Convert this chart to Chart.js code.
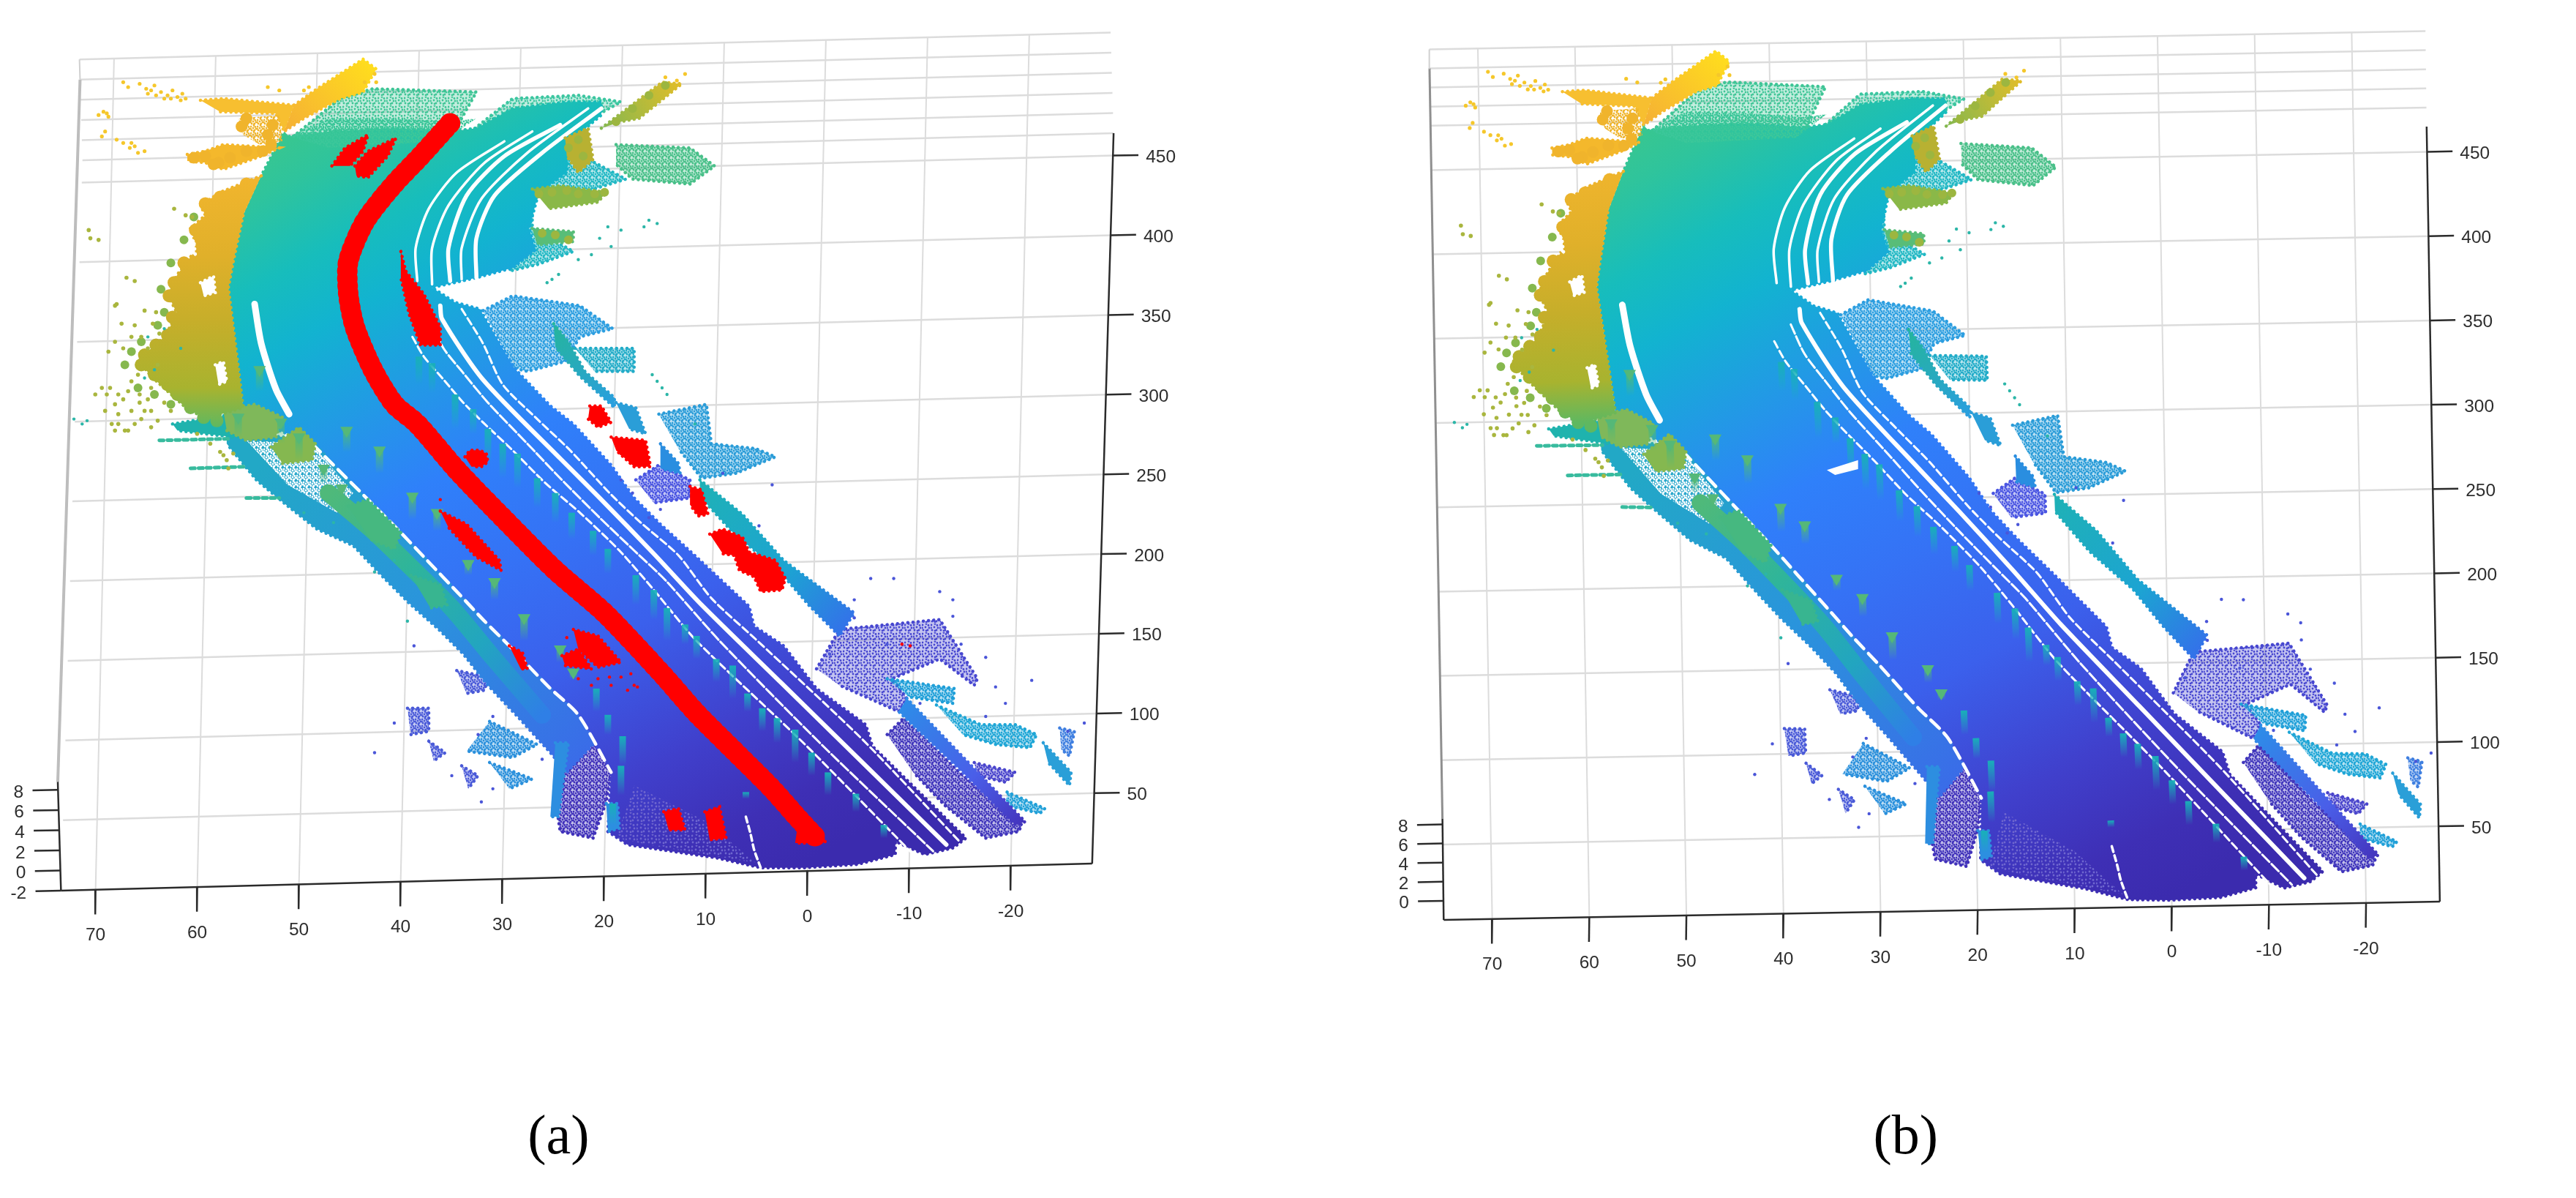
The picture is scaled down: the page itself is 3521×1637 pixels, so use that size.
<!DOCTYPE html>
<html>
<head>
<meta charset="utf-8">
<title>Point cloud (a) (b)</title>
<script src="https://cdn.jsdelivr.net/npm/chart.js@4/dist/chart.umd.min.js"></script>
<style>
  html, body { margin: 0; padding: 0; background: #fff; }
  canvas { display: block; }
</style>
</head>
<body>
<canvas id="cloud" width="3521" height="1637"></canvas>
<script>
/* tick labels */
const xTicks = [70, 60, 50, 40, 30, 20, 10, 0, -10, -20];
const yTicks = [50, 100, 150, 200, 250, 300, 350, 400, 450];
const zTicksA = [-2, 0, 2, 4, 6, 8];
const zTicksB = [0, 2, 4, 6, 8];
const captions = ['(a)', '(b)'];

/* point cloud outlines */
const roadOutline = [[176,83],[200,80],[240,78],[275,80],[290,78],[312,66],[345,62],[366,62],[366,70],[347,86],[345,105],[328,117],[322,139],[326,152],[312,163],[290,169],[263,175],[277,184],[292,188],[313,224],[335,247],[349,258],[372,283],[386,303],[402,319],[424,339],[456,369],[459,381],[477,393],[497,419],[527,441],[531,454],[588,510],[580,516],[563,520],[545,512],[545,520],[522,526],[490,528],[463,528],[436,522],[402,517],[382,514],[370,506],[372,470],[352,435],[334,418],[310,393],[294,377],[279,361],[260,341],[242,322],[224,304],[203,283],[190,270],[170,262],[148,248],[145,223],[142,199],[139,175],[142,159],[148,131],[159,107],[173,80]];
const curbStrip = [[138,262],[190,268],[203,283],[224,304],[242,322],[260,341],[279,361],[294,377],[310,393],[334,418],[352,435],[362,452],[345,470],[335,458],[315,436],[297,417],[282,398],[267,383],[249,367],[234,352],[215,332],[193,322],[174,307],[156,292],[138,270]];
const curbBand = [[200,300],[226,322],[250,345],[275,370],[300,400],[330,435]];
const purpleCurb = [[341,431],[349,431],[372,470],[369,488],[361,510],[341,506],[337,480]];
const curbColumn = [[338,452],[346,452],[340,497],[335,497]];
const farSpeckle = [[386,478],[430,500],[460,525],[400,515],[375,510]];
const whiteSpeckle = [[150,268],[190,270],[215,300],[205,312],[175,295]];

const topSparse = [[176,85],[207,60],[227,54],[290,56],[281,72],[275,84],[240,92],[200,100]];
const topDense = [[176,83],[200,72],[240,72],[275,74],[290,72],[270,86],[200,90]];
const topRightSparse = [[284,82],[312,60],[352,58],[378,62],[360,72],[340,80],[310,90]];
const rightSideSparse = [[345,90],[381,109],[355,117],[324,119],[324,139],[349,153],[327,161],[310,165],[325,125]];
const yellowWedge = [[179,64],[193,54],[221,36],[229,42],[221,56],[207,60],[185,72],[173,80]];
const yellowArm = [[122,61],[136,60],[179,64],[173,80],[168,69],[134,68]];
const orangeBlockA = [[145,72],[170,70],[172,86],[158,88],[148,82]];
const orangeBlockB = [[114,94],[125,92],[136,88],[170,90],[159,95],[136,103],[125,99],[114,98]];
const leftFringe = [[159,107],[134,117],[122,125],[125,131],[116,139],[120,151],[108,167],[102,179],[108,191],[100,205],[84,219],[92,229],[112,247],[125,255],[148,248],[145,223],[142,199],[139,175],[142,159],[148,131]];
const fringeHoles = [[[122,172],[130,168],[131,178],[124,180]], [[131,222],[136,220],[138,232],[133,234]], [[112,150],[118,146],[119,156]]];

const notchTreeA = [[344,84],[358,78],[361,97],[352,105],[345,95]];
const notchArm = [[366,78],[403,50],[415,51],[389,72],[378,74]];
const rightSparseGreen = [[375,88],[420,90],[435,101],[420,112],[385,109],[375,100]];
const treeRowRight = [[324,115],[341,113],[369,117],[364,123],[334,127]];
const treeBlobRight = [[324,139],[349,141],[349,147],[327,149]];
const bluePatchA = [[294,189],[312,180],[353,186],[373,200],[353,205],[344,220],[321,226],[313,224]];
const tealBladeA = [[337,197],[346,208],[356,226],[374,242],[374,248],[353,229],[338,211]];
const tealPatchB = [[350,212],[386,212],[386,226],[362,226]];
const tealBladeC = [[375,245],[387,248],[393,264],[383,261]];
const tealPatchC = [[401,252],[430,246],[433,270],[460,273],[472,278],[448,288],[427,291],[413,273]];
const blueColumn = [[402,270],[413,282],[414,288],[402,285]];
const purplePatchD = [[387,292],[401,283],[420,292],[420,303],[398,306]];
const tealStripE = [[426,292],[452,313],[477,341],[520,373],[511,387],[493,369],[474,347],[447,325],[426,302]];
const purplePatchF = [[497,407],[511,383],[572,377],[595,413],[593,417],[572,401],[543,413],[552,425],[547,433],[529,425],[511,417]];
const tealPatchG = [[540,413],[581,419],[580,428],[553,424]];
const purplePatchH = [[540,447],[550,437],[561,447],[584,470],[622,502],[620,506],[600,510],[575,490],[556,470]];
const blueBandH = [[552,425],[624,500],[618,502],[584,468],[547,433]];
const tealPatchI = [[570,429],[597,441],[618,441],[631,447],[627,455],[606,453],[586,447]];
const purpleTuftJ = [[645,443],[654,445],[651,460],[646,456]];
const tealBladeJ = [[635,452],[652,470],[651,478],[638,464]];
const tealPatchK = [[613,482],[636,492],[633,495],[612,490]];
const purplePatchL = [[593,464],[618,470],[612,476],[595,472]];
const lowLeftPatches = [
  [[248,431],[261,431],[261,445],[250,447]],
  [[261,451],[271,458],[264,463]],
  [[281,466],[291,472],[285,480]],
  [[278,408],[297,412],[295,420],[284,422]]
];
const lowLeftTeal = [[[298,439],[327,453],[312,461],[284,457]], [[298,464],[324,474],[310,480]]];
const lowBlock = [[369,489],[376,489],[377,504],[370,506]];
const tealBlockLeft = [[105,258],[142,252],[159,264],[142,266],[108,262]];
const horizontalStreaks = [
  [[97,268],[139,267]],
  [[116,285],[150,284]],
  [[150,303],[170,303]]
];
const greenMassA = [[136,250],[155,246],[172,254],[168,266],[150,268],[138,262]];
const greenMassB = [[165,272],[182,260],[192,270],[190,280],[172,282]];
const greenMassC = [[212,308],[224,304],[244,324],[240,334],[225,328]];
const greenMassD = [[250,350],[268,356],[272,368],[262,370]];

/* lane gaps */
const laneUpperA = [[307,86],[278,105],[261,127],[253,151],[254,171]];
const laneUpperB = [[324,80],[295,99],[273,125],[263,151],[263,173]];
const laneUpperC = [[341,76],[307,95],[284,119],[273,151],[274,171]];
const laneUpperD = [[358,66],[321,93],[293,121],[281,151],[281,170]];
const laneUpperE = [[366,66],[330,93],[301,119],[290,145],[290,169]];
const laneOuter = [[281,188],[294,209],[306,234],[327,255],[347,274],[371,300],[390,318],[413,338],[433,364],[460,389],[525,450],[584,512]];
const laneThick = [[268,186],[269,194],[294,231],[341,279],[365,303],[398,337],[427,368],[475,415],[527,466],[576,514]];
const laneInner = [[262,195],[270,212],[282,227],[297,245],[321,270],[341,291],[365,315],[386,335],[405,353],[438,390],[500,453],[568,518]];
const laneFar = [[251,205],[258,217],[270,231],[282,245],[294,257],[312,274],[332,294],[353,312],[377,335],[398,359],[424,390],[490,453],[554,518]];
const leftGapThick = [[155,185],[159,209],[168,237],[176,252]];
const leftGapThin = [[190,270],[203,283],[224,304],[242,322],[260,341],[279,361],[294,377],[310,393],[334,418],[352,435],[372,470]];
const centreDash = [[454,497],[457,508],[459,517],[463,528]];

/* poles along the road and trees on it: x, top, bottom */
const poles = [[255,217,234],[263,221,239],[277,240,261],[288,249,264],[297,261,282],[306,270,291],[315,276,297],[327,291,309],[338,300,318],[348,312,328],[361,323,338],[370,334,349],[387,350,368],[398,359,377],[406,370,390],[417,380,392],[424,387,401],[436,401,415],[446,405,425],[455,422,433],[464,431,445],[473,437,452],[484,444,464],[494,458,472],[504,470,484],[521,483,494],[538,502,510],[363,419,433],[370,435,447],[379,448,466],[378,466,484],[373,489,502],[454,482,486]];
const trees = [[171,255,270],[182,264,280],[197,283,295],[208,295,304],[211,260,275],[231,272,288],[158,223,238],[145,252,266],[251,300,316],[266,310,323],[285,341,350],[301,352,365],[319,374,390],[341,393,403],[349,407,413]];

/* loose points */
const yellowPts = [[75,50],[78,53],[85,51],[89,54],[92,55],[95,58],[98,56],[102,58],[105,55],[108,59],[111,57],[113,60],[110,61],[100,60],[60,70],[63,68],[66,71],[65,69],[64,80],[62,83],[71,85],[75,87],[80,87],[79,90],[84,93],[88,92],[163,53],[170,55],[185,55],[188,53],[90,57],[94,52],[104,60],[82,89],[228,45],[229,50],[222,50],[405,47],[412,49],[417,45]];
const fringeLumps = [[150,112],[143,118],[134,120],[125,124],[136,128],[128,135],[119,140],[128,146],[122,152],[112,160],[118,168],[106,172],[103,180],[110,186],[105,193],[116,195],[102,204],[95,210],[88,216],[86,222],[94,228],[102,234],[108,240],[116,248],[124,254],[132,256]];
const orangeLumps = [[125,95],[133,99],[140,96],[150,92],[160,92],[130,100],[147,77],[166,76],[163,82],[150,72],[165,88],[118,96]];
const greenFringe = [[118,132],[112,146],[104,160],[98,176],[100,190],[96,198],[86,208],[80,214],[76,222],[84,236],[94,240],[104,246]];
const olivePts = [[55,145],[60,146],[54,140],[106,127],[113,131],[117,132],[77,169],[82,171],[70,186],[71,185],[88,189],[93,197],[97,203],[74,197],[82,198],[95,190],[70,208],[75,212],[86,205],[80,205],[90,212],[66,214],[62,236],[72,240],[80,232],[85,240],[92,236],[58,240],[64,250],[72,258],[86,255],[92,250],[76,262],[96,222],[84,228],[100,245],[120,264],[128,270],[136,277],[139,285],[65,240],[70,246],[75,243],[80,250],[72,252],[85,245],[90,243],[68,258],[78,262],[92,260],[134,275],[138,280],[142,276],[67,236],[78,238],[88,250],[82,258],[70,262],[96,256],[104,250]];
const greenLumps = [[346,90],[352,85],[355,95],[385,66],[395,58],[405,52],[375,74],[328,118],[336,117],[345,116],[352,118],[362,118],[368,117],[330,142],[338,143],[346,146]];
const tealPts = [[45,255],[50,258],[53,256],[90,205],[100,200],[94,225],[88,230],[110,212],[395,134],[400,136],[392,138],[370,138],[378,140],[365,145],[372,150],[360,155],[352,158],[336,170],[340,167],[333,172],[397,228],[400,232],[403,236],[406,240],[423,258],[228,348],[240,341],[203,318],[185,312],[248,378]];
const purplePts = [[520,365],[530,352],[544,352],[572,360],[580,365],[470,295],[440,288],[462,320],[540,392],[580,375],[600,400],[606,418],[628,414],[612,428],[650,445],[660,440],[275,472],[252,393],[291,447],[300,480],[293,488],[240,440],[228,458],[395,315],[402,310],[385,300],[378,292],[505,398],[520,376],[585,392],[600,436],[560,428],[300,436],[330,462]];

/* red labelled points, only in panel (a) */
const redPath = [[274,75],[256,95],[239,113],[222,135],[212,159],[212,179],[216,199],[227,225],[240,246],[254,258],[279,287],[309,318],[338,347],[368,373],[402,409],[424,434],[447,457],[470,480],[485,497],[497,510]];
const redBlobs = [
  [[202,101],[210,90],[224,82],[221,92],[213,101]],
  [[216,101],[224,92],[241,84],[236,95],[224,108],[217,107]],
  [[244,153],[247,165],[258,179],[268,199],[268,210],[256,210],[249,191],[244,169]],
  [[283,278],[286,274],[292,274],[296,276],[297,281],[293,284],[287,284]],
  [[359,247],[366,247],[372,257],[364,260],[358,255]],
  [[372,266],[393,268],[396,284],[386,284],[375,274]],
  [[420,296],[427,298],[431,313],[425,314],[420,307]],
  [[432,325],[440,322],[452,327],[456,336],[472,341],[478,352],[476,359],[463,360],[459,351],[450,347],[447,338],[440,337]],
  [[268,311],[284,319],[304,341],[305,347],[290,339],[273,321]],
  [[310,393],[318,397],[321,407],[317,407]],
  [[342,399],[352,395],[360,407],[344,405]],
  [[349,383],[364,387],[378,403],[364,406],[352,395]],
  [[404,494],[413,492],[417,505],[407,505]],
  [[429,494],[438,491],[442,510],[432,511]],
  [[486,499],[503,512],[497,513],[484,513]]
];
const redPts = [[358,406],[364,413],[371,412],[378,412],[384,410],[352,413],[360,417],[386,417],[382,420],[372,417],[388,418],[549,392],[554,393],[268,304],[345,388],[378,276]];

/* panel (b) only: hole left on the road */
const holeB = [[1112,286],[1131,280],[1131,285.5],[1117,289]];

/* where the axes fall in each panel, in page units of the reduced figure */
const viewA = {
  origin: [491.3, 535.7], ex: [-6.19, 0.162], ey: [0.0285, -0.97], ez: [-0.18, -6.13],
  uMax: 73.4, uMin: -28, vFront: 5.8, vBack: 464, zLow: -2, zTop: 8, zAxisTop: 8.8,
  scene: { xx: 1, xy: 0, x0: 0, yx: 0, yy: 1, y0: 0 }, wall: '#bdbdbd', wallWidth: 4
};
const viewB = {
  origin: [1322.1, 557.1], ex: [-5.91, 0.108], ey: [-0.0175, -1.026], ez: [-0.07, -5.81],
  uMax: 75, uMin: -27.6, vFront: 5.3, vBack: 465, zLow: -2, zTop: 8, zAxisTop: 8.6,
  scene: { xx: 0.9547, xy: 0.04, x0: 832.1, yx: 0.0134, yy: 1.043, y0: -9.5 }, wall: '#8f8f8f', wallWidth: 3
};

function project(view, u, v, z) {
  return {
    x: view.origin[0] + u * view.ex[0] + v * view.ey[0] + (z - view.zLow) * view.ez[0],
    y: view.origin[1] + u * view.ex[1] + v * view.ey[1] + (z - view.zLow) * view.ez[1]
  };
}

function toPanel(view, p) {
  const s = view.scene;
  return { x: s.xx * p[0] + s.xy * p[1] + s.x0, y: s.yx * p[0] + s.yy * p[1] + s.y0 };
}

/* --- fills --- */
function gradientFill(view, from, to, stops) {
  return function(ctx) {
    const chart = ctx.chart;
    const kx = chart.width / 1568;
    const ky = chart.height / 729;
    const a = toPanel(view, from);
    const b = toPanel(view, to);
    const g = chart.ctx.createLinearGradient(a.x * kx, a.y * ky, b.x * kx, b.y * ky);
    stops.forEach(s => g.addColorStop(s[0], s[1]));
    return g;
  };
}

const tiles = {};
function dotPattern(color, step) {
  const key = color + step;
  if (!tiles[key]) {
    const tile = document.createElement('canvas');
    tile.width = step * 3;
    tile.height = step * 3;
    const c = tile.getContext('2d');
    c.fillStyle = color;
    [[1, 2], [step + 2, 0.5], [step * 2 + 1, 2.5], [0.5, step + 2], [step + 1, step + 1], [step * 2 + 2, step + 2], [2, step * 2 + 1], [step + 2, step * 2 + 2], [step * 2, step * 2 + 1]].forEach(d => {
      c.beginPath();
      c.arc(d[0], d[1], 1.4, 0, Math.PI * 2);
      c.fill();
    });
    tiles[key] = c.createPattern(tile, 'repeat');
  }
  return tiles[key];
}

const roadStops = [[0,'#3bc78c'],[0.06,'#2fc49c'],[0.146,'#17bdbc'],[0.22,'#12b3d0'],[0.34,'#2496e8'],[0.43,'#2f80fa'],[0.55,'#3572f5'],[0.68,'#3b60ec'],[0.825,'#4040cc'],[0.93,'#3e2fb5'],[1,'#3b2bae']];
const fringeStops = [[0,'#f4b62e'],[0.35,'#e0b02a'],[0.6,'#c6ae2a'],[0.85,'#a8b32f'],[1,'#5fb860']];
const bandStops = [[0,'#4fb97a'],[0.35,'#2fb59a'],[0.7,'#22a5c0'],[1,'#2f7fe6']];

/* --- dataset builders --- */
function polygon(view, pts, fill, edge) {
  return {
    data: pts.map(p => toPanel(view, p)),
    showLine: true, fill: 'shape', backgroundColor: fill,
    borderColor: edge || 'rgba(0,0,0,0)', borderWidth: edge ? 4.5 : 0,
    borderDash: edge ? [0.1, 7] : [], borderCapStyle: 'round', pointRadius: 0, tension: 0
  };
}

function stroke(view, pts, color, width, dash, cap) {
  return {
    data: pts.map(p => toPanel(view, p)),
    showLine: true, fill: false, borderColor: color, borderWidth: width,
    borderDash: dash || [], borderJoinStyle: 'round', borderCapStyle: cap || 'round', pointRadius: 0, tension: 0.25
  };
}

function straight(a, b, color, width) {
  return { data: [a, b], showLine: true, fill: false, borderColor: color, borderWidth: width, pointRadius: 0, tension: 0 };
}

function scatter(view, pts, color, r, style) {
  return {
    data: pts.map(p => toPanel(view, p)), showLine: false, pointRadius: r, backgroundColor: color,
    borderWidth: 0, pointBorderWidth: 0, pointStyle: style || 'circle', pointRotation: style === 'triangle' ? 180 : 0
  };
}

/* a post fades from its coloured top into the road below it */
function fadingPost(view, p, top, width) {
  const faded = top.replace('1)', '0)');
  return stroke(view, [[p[0],p[1]],[p[0],p[2]]], gradientFill(view, [p[0],p[1]], [p[0],p[2]], [[0,top],[1,faded]]), width, [], 'butt');
}

function axesDatasets(view, zGrid) {
  const out = [];
  const grid = '#dcdcdc';
  xTicks.forEach(u => out.push(straight(project(view, u, view.vFront, view.zLow), project(view, u, view.vBack, view.zTop), grid, 2)));
  yTicks.forEach(v => out.push(straight(project(view, view.uMax, v, view.zLow), project(view, view.uMin, v, view.zLow), grid, 2.5)));
  zGrid.forEach(z => out.push(straight(project(view, view.uMax, view.vBack, z), project(view, view.uMin, view.vBack, z), grid, 2.5)));
  out.push(straight(project(view, view.uMax, view.vFront, view.zAxisTop), project(view, view.uMax, view.vBack, 6), view.wall, view.wallWidth));
  out.push(straight(project(view, view.uMax, view.vBack, 6), project(view, view.uMax, view.vBack, view.zTop), '#d0d0d0', 2));
  return out;
}

function axisLines(view, zLabels) {
  const out = [];
  const axis = '#2b2b2b';
  const left = project(view, view.uMax, view.vFront, view.zLow);
  const right = project(view, view.uMin, view.vFront, view.zLow);
  out.push(straight(left, right, axis, 2.5));
  out.push(straight(right, project(view, view.uMin, view.vBack, view.zLow), axis, 2.5));
  out.push(straight(left, project(view, view.uMax, view.vFront, view.zAxisTop), axis, 2.5));
  xTicks.forEach(u => {
    const p = project(view, u, view.vFront, view.zLow);
    out.push(straight(p, { x: p.x - 0.2, y: p.y + 15 }, axis, 2.5));
  });
  yTicks.forEach(v => {
    const p = project(view, view.uMin, v, view.zLow);
    out.push(straight(p, { x: p.x + 15.5, y: p.y - 0.3 }, axis, 2.5));
  });
  zLabels.forEach(z => {
    const p = project(view, view.uMax, view.vFront, z);
    out.push(straight(p, { x: p.x - 15.5, y: p.y + 0.3 }, axis, 2.5));
  });
  return out;
}

function cloudDatasets(view) {
  const out = [];
  const road = gradientFill(view, [200,60], [457.6,542], roadStops);
  const fringe = gradientFill(view, [0,100], [0,260], fringeStops);
  /* sparse returns: a faint wash of the colour with the dots on top */
  const s = (pts, c, step) => {
    out.push(polygon(view, pts, c + '50'));
    out.push(polygon(view, pts, dotPattern(c, step || 4), c));
  };
  const f = (pts, c, edge) => out.push(polygon(view, pts, c, edge === undefined ? c : edge));

  s(topSparse, '#3fc596', 4);
  s(topRightSparse, '#3cc6a0', 4);
  s(rightSideSparse, '#22b8c4', 3);
  s(rightSparseGreen, '#49c089', 3);
  s(bluePatchA, '#2c9ee0', 3);
  s(tealPatchB, '#22acc8', 3);
  s(tealPatchC, '#2a9cd8', 3);
  s(purplePatchD, '#4a55e2', 3);
  s(purplePatchF, '#4747d0', 4);
  s(purplePatchH, '#4136bc', 3);
  s(tealPatchG, '#1f9fd8', 3);
  s(tealPatchI, '#1fa6d6', 3);
  s(purpleTuftJ, '#3f7fe0', 3);
  s(tealPatchK, '#21a0d8', 3);
  s(purplePatchL, '#4a45cc', 3);
  lowLeftPatches.forEach(p => s(p, '#4a5ad8', 3));
  lowLeftTeal.forEach(p => s(p, '#2a90dc', 3));
  s(purpleCurb, '#4132ba', 3);

  /* main surface */
  f(roadOutline, road);
  out.push(polygon(view, topDense, dotPattern('#3cc79a', 3)));
  f(curbStrip, gradientFill(view, [160,280], [345,470], [[0,'#22a8c6'],[0.5,'#2a94dc'],[1,'#3a6ce8']]));
  f(curbColumn, '#2d8ee0');
  f(lowBlock, '#2c8fe0');
  f(blueColumn, '#2a8ee0');
  out.push(polygon(view, farSpeckle, dotPattern('#6f67cf', 5)));
  out.push(polygon(view, whiteSpeckle, dotPattern('#ffffff', 3)));

  /* lanes cut out of the surface */
  [laneUpperA, laneUpperB, laneUpperD].forEach(l => out.push(stroke(view, l, '#fff', 3.5)));
  [laneUpperC, laneUpperE].forEach(l => out.push(stroke(view, l, '#fff', 5.5)));
  out.push(stroke(view, laneOuter, '#fff', 3, [10, 5]));
  out.push(stroke(view, laneThick, '#fff', 6));
  out.push(stroke(view, laneInner, '#fff', 3, [14, 4]));
  out.push(stroke(view, laneFar, '#fff', 3, [10, 5]));
  out.push(stroke(view, leftGapThick, '#fff', 9));
  out.push(stroke(view, leftGapThin, '#fff', 4.5, [16, 9]));
  out.push(stroke(view, centreDash, '#fff', 3.5, [8, 5]));

  /* strips and vegetation */
  out.push(stroke(view, curbBand, gradientFill(view, [200,300], [330,435], bandStops), 24));
  f(tealBlockLeft, '#1fb3ae');
  horizontalStreaks.forEach(h => out.push(stroke(view, h, '#38bb9e', 5, [6, 5])));
  f(greenMassA, '#7fb85a');
  f(greenMassB, '#85b850');
  f(greenMassC, '#46b880');
  f(greenMassD, '#38b590');
  poles.forEach(p => out.push(fadingPost(view, p, 'rgba(24,176,184,1)', 9)));
  trees.forEach(p => out.push(fadingPost(view, p, 'rgba(80,184,120,1)', 10)));
  out.push(scatter(view, trees.map(t => [t[0], t[1] + 2]), '#55b878', 10, 'triangle'));

  out.push(scatter(view, greenFringe, '#86b84e', 6));
  f(leftFringe, fringe);
  f(yellowArm, '#f7bf30');
  f(yellowWedge, gradientFill(view, [221,36], [175,80], [[0,'#ffdc1e'],[1,'#f5b035']]));
  out.push(polygon(view, orangeBlockA, dotPattern('#efb52c', 3)));
  f(orangeBlockB, '#f4b82c');
  f(notchTreeA, '#b8b132');
  f(notchArm, gradientFill(view, [415,50], [366,78], [[0,'#e2bd28'],[1,'#84b850']]));
  f(treeRowRight, '#8ab848');
  f(treeBlobRight, '#58bd78');
  f(tealBladeA, gradientFill(view, [337,197], [374,248], [[0,'#25b59c'],[1,'#2a9ee0']]));
  f(tealBladeC, '#2a9ed8');
  f(tealStripE, gradientFill(view, [424,289], [520,380], [[0,'#1fb2b4'],[0.6,'#1ca4d2'],[1,'#3470ea']]));
  f(blueBandH, gradientFill(view, [552,425], [624,500], [[0,'#2d8de8'],[0.6,'#4a5ee8'],[1,'#4434bd']]));
  f(tealBladeJ, '#2a9fd8');

  /* loose points */
  out.push(scatter(view, fringeLumps, fringe, 9));
  fringeHoles.forEach(h => out.push(polygon(view, h, '#ffffff', '#ffffff')));
  out.push(scatter(view, orangeLumps, '#f0b42c', 8));
  out.push(scatter(view, greenLumps, '#9cb640', 6));
  out.push(scatter(view, yellowPts, '#f5c72b', 2.6));
  out.push(scatter(view, olivePts, '#a9b63e', 2.8));
  out.push(scatter(view, tealPts, '#2cb6a8', 2.2));
  out.push(scatter(view, purplePts, '#4a55d8', 2.2));
  return out;
}

function redDatasets(view) {
  const out = [];
  out.push(stroke(view, redPath, '#ff0000', 22));
  out.push(stroke(view, redPath, '#ff0000', 28, [1, 9]));
  redBlobs.forEach(b => out.push(polygon(view, b, '#ff0000', '#ff0000')));
  out.push(scatter(view, redPts, '#ff0000', 2.2));
  return out;
}

/* tick text goes through the same scales as the marks */
const tickText = {
  id: 'tickText',
  afterDraw(chart) {
    const { ctx, scales } = chart;
    const put = (p, text, align) => {
      ctx.textAlign = align;
      ctx.fillText(text, scales.x.getPixelForValue(p.x), scales.y.getPixelForValue(p.y));
    };
    ctx.save();
    ctx.fillStyle = '#2e2e2e';
    ctx.textBaseline = 'middle';
    ctx.font = "24.5px 'Liberation Sans', Arial, sans-serif";
    [[viewA, zTicksA], [viewB, zTicksB]].forEach(([view, zs]) => {
      xTicks.forEach(u => {
        const p = project(view, u, view.vFront, view.zLow);
        put({ x: p.x, y: p.y + 28 }, String(u), 'center');
      });
      yTicks.forEach(v => {
        const p = project(view, view.uMin, v, view.zLow);
        put({ x: p.x + 20, y: p.y + 1.2 }, String(v), 'left');
      });
      zs.forEach(z => {
        const p = project(view, view.uMax, view.vFront, z);
        put({ x: p.x - 21, y: p.y + 1.7 }, String(z), 'right');
      });
    });
    ctx.fillStyle = '#000';
    ctx.font = "76px 'Liberation Serif', 'Times New Roman', serif";
    put({ x: 340, y: 693 }, captions[0], 'center');
    put({ x: 1160, y: 693 }, captions[1], 'center');
    ctx.restore();
  }
};

const datasets = [].concat(
  axesDatasets(viewA, [-2, 0, 2, 4, 6, 8]),
  axesDatasets(viewB, [0, 2, 4, 6, 8]),
  cloudDatasets(viewA),
  redDatasets(viewA),
  cloudDatasets(viewB),
  [{ data: holeB.map(p => ({ x: p[0], y: p[1] })), showLine: true, fill: 'shape', backgroundColor: '#fff', borderWidth: 0, pointRadius: 0 }],
  axisLines(viewA, zTicksA),
  axisLines(viewB, zTicksB)
);

/* Chart.js paints the first dataset last */
datasets.reverse();

new Chart(document.getElementById('cloud'), {
  type: 'scatter',
  data: { datasets: datasets },
  plugins: [tickText],
  options: {
    responsive: false,
    animation: false,
    /* thick strokes would otherwise shrink the plot area */
    layout: { autoPadding: false, padding: 0 },
    plugins: { legend: { display: false }, tooltip: { enabled: false } },
    scales: {
      x: { type: 'linear', min: 0, max: 1568, display: false },
      y: { type: 'linear', min: 0, max: 729, reverse: true, display: false }
    }
  }
});
</script>
</body>
</html>
